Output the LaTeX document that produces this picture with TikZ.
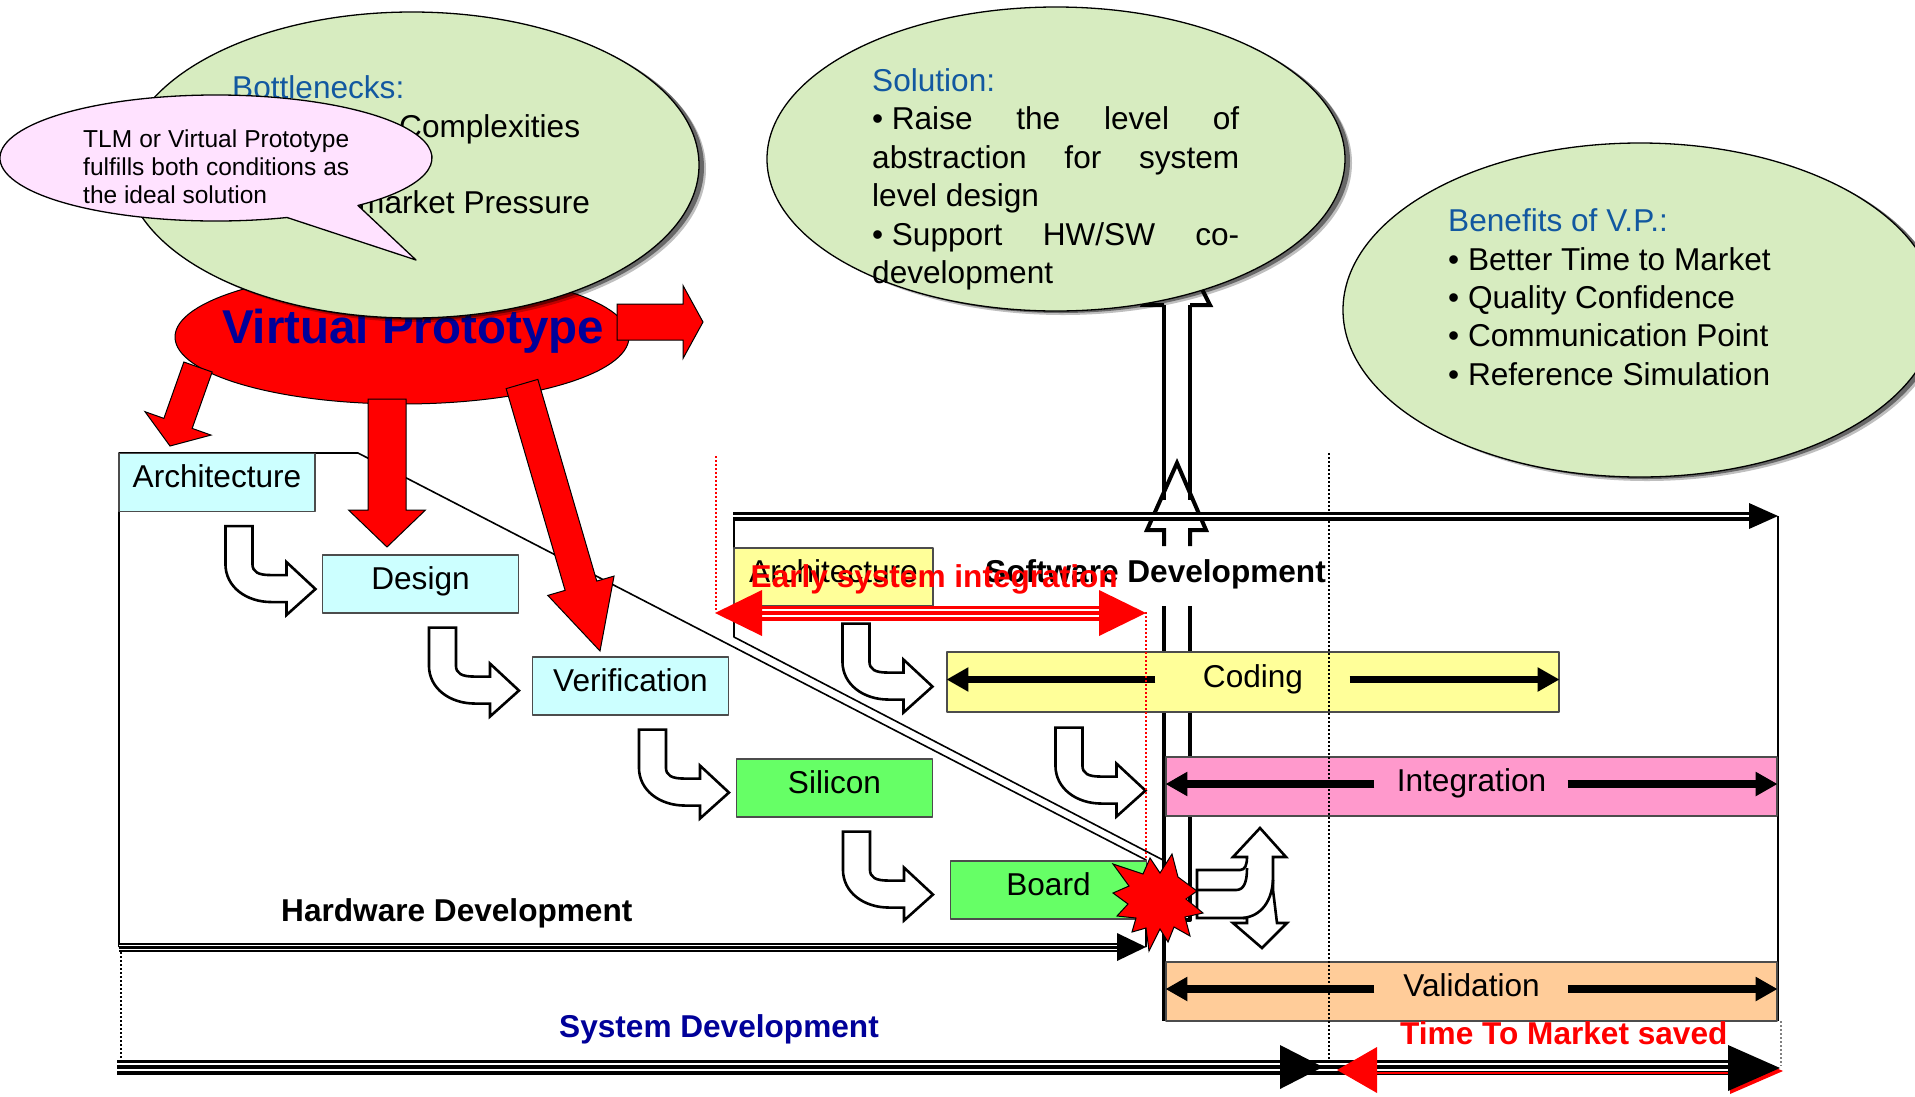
\documentclass[tikz,border=0pt]{standalone}
\usepackage{fontspec}
\setmainfont{Liberation Sans}
\usetikzlibrary{calc,arrows.meta}

\definecolor{navy}{RGB}{0,0,153}
\definecolor{hdblue}{RGB}{18,88,160}
\definecolor{bubble}{RGB}{215,236,192}
\definecolor{callpink}{RGB}{255,226,255}
\definecolor{hwcyan}{RGB}{204,255,255}
\definecolor{hwgreen}{RGB}{102,255,102}
\definecolor{swyellow}{RGB}{255,255,153}
\definecolor{swpink}{RGB}{255,153,204}
\definecolor{swpeach}{RGB}{255,204,153}

\newcommand{\fsmain}{\fontsize{31.6pt}{37pt}\selectfont}
\newcommand{\fscall}{\fontsize{24.5pt}{28pt}\selectfont}
\newcommand{\fsvp}{\fontsize{47.5pt}{52pt}\selectfont\bfseries}

% block arrow: start, tip, half shaft width, half head width, head length
\newcommand{\blockarrow}[5]{%
  \coordinate (bahead) at ($(#2)!#5!(#1)$);
  \filldraw[redblock] ($(#1)!#3!90:(#2)$) -- ($(bahead)!#3!-90:(#1)$)
    -- ($(bahead)!#4!-90:(#1)$) -- (#2) -- ($(bahead)!#4!90:(#1)$)
    -- ($(bahead)!#3!90:(#1)$) -- ($(#1)!#3!-90:(#2)$) -- cycle;
}

\begin{document}
\begin{tikzpicture}[x=1pt, y=-1pt, line join=round,
  hwbox/.style={draw=black!70, line width=1.1pt, inner sep=0pt,
    minimum width=196pt, minimum height=58pt,
    text height=18pt, text depth=8pt, font=\fsmain},
  lbl/.style={anchor=base west, inner sep=0pt, font=\fsmain},
  hollow/.style={fill=white, draw=black, line width=2.6pt, line join=miter},
  redblock/.style={fill=red, draw=black, line width=1pt, line join=miter},
  barrow/.style={line width=7.5pt, -{Triangle[length=22pt,width=23pt]}},
  shaftline/.style={line width=4pt},
  bracket/.style={line width=1.6pt},
  reddots/.style={red, line width=2pt, dash pattern=on 2pt off 2pt},
  blackdots/.style={black, line width=2.2pt, dash pattern=on 2pt off 2pt},
  bubbleshape/.style={fill=bubble, draw=black, line width=1.3pt},
  turnarrow/.pic={
    \filldraw[hollow] (107,14) -- (107,52) .. controls (107,75) and (128,90) .. (153,90)
      -- (168,90) -- (168,103) -- (197,77) -- (168,50) -- (168,63) -- (152,63)
      .. controls (140,63) and (134,60) .. (134,52) -- (134,14) -- cycle;
  }
]
\useasboundingbox (0,0) rectangle (1915,1096);
\clip (0,0) rectangle (1915,1096);
\fill[white] (0,0) rectangle (1915,1096);

% ---------- bracket corners ----------
\coordinate (hwTL) at (119,453);
\coordinate (hwKnee) at (358,453);
\coordinate (hwEnd) at (1146,860);
\coordinate (hwFoot) at (1146,947);
\coordinate (hwStart) at (119,947);
\coordinate (swTL) at (734,516);
\coordinate (swKnee) at (734,637);
\coordinate (swEnd) at (1163,860);
\coordinate (swTR) at (1778,516);
\coordinate (swBR) at (1778,1021);

% ---------- hollow vertical shaft up to the solution ----------
\draw[shaftline] (1164,305) -- (1164,500) (1190,305) -- (1190,500);
\draw[shaftline] (1164,606) -- (1164,1021) (1190,606) -- (1190,920) -- (1184,920);
\draw[shaftline, line join=miter] (1164,546) -- (1164,530) -- (1147,530) -- (1177,463)
  -- (1206,530) -- (1190,530) -- (1190,546);
\draw[shaftline, line join=miter] (1164,305) -- (1143,305) -- (1176,238) -- (1210,305) -- (1190,305);

% ---------- brackets ----------
\draw[bracket] (hwStart) -- (hwTL) -- (hwKnee) -- (hwEnd) -- (hwFoot);
\draw[bracket] (swTL) -- (swKnee) -- (swEnd);
\draw[bracket] (swTR) -- (swBR);

% ---------- software timeline ----------
\draw[line width=9.5pt] (733,516.5) -- (1751,516.5);
\draw[white, line width=1.2pt] (733,516) -- (1751,516);
\fill (1749,503) -- (1778,516) -- (1749,529) -- cycle;

\node[lbl, font=\fsmain\bfseries] (swdev) at (985,582) {Software Development};

% ---------- process boxes ----------
\node[hwbox, fill=hwcyan] (arch) at (217,482.5) {Architecture};
\node[hwbox, fill=hwcyan] (design) at (420.5,584) {Design};
\node[hwbox, fill=hwcyan] (verif) at (630.5,686) {Verification};
\node[hwbox, fill=hwgreen] (silicon) at (834.5,788) {Silicon};
\node[hwbox, fill=hwgreen] (board) at (1048.5,890) {Board};
\node[hwbox, fill=swyellow, minimum width=199pt] (swarch) at (833.5,577) {Architecture};
\node[hwbox, fill=swyellow, minimum width=612pt, minimum height=60pt] (coding) at (1253,682) {Coding};
\node[hwbox, fill=swpink, minimum width=611pt, minimum height=59pt] (integ) at (1471.5,786.5) {Integration};
\node[hwbox, fill=swpeach, minimum width=611pt, minimum height=59pt] (valid) at (1471.5,991.5) {Validation};

% span arrows inside the software phases
\foreach \bx in {coding,integ,valid}{
  \draw[barrow] ([shift={(209,-2.5)}]\bx.west) -- ([shift={(0,-2.5)}]\bx.west);
  \draw[barrow] ([shift={(-210,-2.5)}]\bx.east) -- ([shift={(0,-2.5)}]\bx.east);
}

% ---------- hand-over arrows ----------
\pic at (arch.south west) {turnarrow};
\pic at (design.south west) {turnarrow};
\pic at (verif.south west) {turnarrow};
\pic at (silicon.south west) {turnarrow};
\pic at ([shift={(2,3)}]swarch.south west) {turnarrow};
\pic at ([shift={(2,1)}]coding.south west) {turnarrow};

% ---------- early system integration ----------
\draw[reddots] (716,456) -- (716,612);
\draw[reddots] (1146,612) -- (1146,860);
\draw[red, line width=15pt] (760,613) -- (1101,613);
\draw[white, line width=1.6pt] (760,610) -- (1101,610) (760,616) -- (1101,616);
\fill[red] (762,590) -- (715,613) -- (762,636) -- cycle;
\fill[red] (1099,590) -- (1146,613) -- (1099,636) -- cycle;
\node[lbl, font=\fsmain\bfseries, text=red] (esi) at (750.5,587) {Early system integration};

% ---------- hardware timeline ----------
\draw[line width=9pt] (hwStart) -- (1118,947);
\draw[white, line width=1pt] (119,945) -- (1118,945) (119,949) -- (1118,949);
\fill (1117,933) -- (hwFoot) -- (1117,961) -- cycle;
\node[lbl, font=\fsmain\bfseries] (hwdev) at (281,921) {Hardware Development};

% ---------- system timeline ----------
\draw[line width=15pt] (117,1067) -- (1730,1067);
\draw[white, line width=1.2pt] (117,1064) -- (1730,1064) (117,1070) -- (1730,1070);
\fill (1280,1045) -- (1323,1067) -- (1280,1089) -- cycle;
\draw[red, line width=2pt] (1377,1073) -- (1736,1073);
\fill[red] (1730,1048) -- (1783,1071) -- (1730,1094) -- cycle;
\fill (1728,1045) -- (1780,1068) -- (1728,1091) -- cycle;
\fill[red] (1377,1047) -- (1337,1070) -- (1377,1093) -- cycle;
\node[lbl, font=\fsmain\bfseries, text=navy] (sysdev) at (559,1037) {System Development};
\node[lbl, font=\fsmain\bfseries, text=red] (ttm) at (1400,1044) {Time To Market saved};

% ---------- dotted markers ----------
\draw[blackdots] (1329,453) -- (1329,1066);
\draw[blackdots, line width=1.5pt] (121,952) -- (121,1060);
\draw[gray, line width=1.5pt, dash pattern=on 2pt off 2pt] (1781,1021) -- (1781,1066);

% ---------- split arrow after integration point ----------
\filldraw[hollow] (1197,870) -- (1240,870) .. controls (1245,870) and (1247,865) .. (1247,857)
  -- (1233,857) -- (1260,828) -- (1286,857) -- (1273,857) -- (1273,890) -- (1277,923)
  -- (1287,923) -- (1262,948) -- (1233,923) -- (1247,923) -- (1247,918) -- (1197,918) -- cycle;
\draw[line width=2.6pt] (1197,890) -- (1236,890) .. controls (1244,890) and (1247,882) .. (1247,868);
\draw[line width=2.6pt] (1243,918) .. controls (1262,916) and (1272,900) .. (1273,880);

% ---------- collision star ----------
\filldraw[fill=red, draw=black, line width=1pt, line join=miter]
  (1172,854) -- (1178,877) -- (1197,891) -- (1186,899) -- (1203,913) -- (1185,917)
  -- (1190,936) -- (1174,927) -- (1168,942) -- (1160,929) -- (1149,951) -- (1146,928)
  -- (1132,932) -- (1136,918) -- (1117,916) -- (1128,904) -- (1113,893) -- (1129,886)
  -- (1113,864) -- (1143,874) -- (1150,858) -- (1160,873) -- cycle;

% ---------- virtual prototype ----------
\filldraw[fill=red, draw=black, line width=1pt] (402,337) ellipse [x radius=227, y radius=67];
\node[anchor=base, inner sep=0pt, font=\fsvp, text=navy] (vp) at (413,343) {Virtual Prototype};
\coordinate (a1s) at (198,367); \coordinate (a1t) at (170,446);
\coordinate (a2s) at (387,399); \coordinate (a2t) at (387,547);
\coordinate (a3s) at (522,384); \coordinate (a3t) at (600,651);
\coordinate (a4s) at (617,322); \coordinate (a4t) at (703,322);
\blockarrow{a1s}{a1t}{15pt}{35pt}{24pt}
\blockarrow{a2s}{a2t}{19pt}{38.5pt}{37pt}
\blockarrow{a3s}{a3t}{16.5pt}{34.5pt}{68pt}
\blockarrow{a4s}{a4t}{18pt}{36.5pt}{20pt}

% ---------- bottlenecks bubble ----------
\fill[black, opacity=0.25] (419,169) ellipse [x radius=287, y radius=153];
\fill[black, opacity=0.45] (417,167) ellipse [x radius=287, y radius=153];
\filldraw[bubbleshape] (412,165) ellipse [x radius=287, y radius=153];
\node[lbl, text=hdblue] (bn) at (232,98) {Bottlenecks:};
\node[lbl] (bn1) at (399,137) {Complexities};
\node[lbl] (bn2) at (358,213) {market Pressure};

% ---------- speech callout ----------
\filldraw[fill=callpink, draw=black, line width=1.3pt]
  ([shift={(216,158)}]70.8:216 and 63)
  arc[start angle=70.8, end angle=408.9, x radius=216, y radius=63]
  -- (416,260) -- cycle;
\node[anchor=base west, inner sep=0pt, font=\fscall] (c1) at (83,147) {\makebox[266pt][s]{TLM or Virtual Prototype}};
\node[anchor=base west, inner sep=0pt, font=\fscall] (c2) at (83,175) {\makebox[266pt][s]{fulfills both conditions as}};
\node[anchor=base west, inner sep=0pt, font=\fscall] (c3) at (83,203) {the ideal solution};

% ---------- solution bubble ----------
\fill[black, opacity=0.25] (1063,163) ellipse [x radius=289, y radius=152];
\fill[black, opacity=0.45] (1061,161) ellipse [x radius=289, y radius=152];
\filldraw[bubbleshape] (1056,159) ellipse [x radius=289, y radius=152];
\node[lbl, text=hdblue] (s0) at (872,91) {Solution:};
\node[lbl] (s1) at (872,129.5) {\makebox[367pt][s]{•\kern8.6pt Raise the level of}};
\node[lbl] (s2) at (872,168) {\makebox[367pt][s]{abstraction for system}};
\node[lbl] (s3) at (872,206.5) {level design};
\node[lbl] (s4) at (872,245) {\makebox[367pt][s]{•\kern8.6pt Support HW/SW co-}};
\node[lbl] (s5) at (872,283.5) {development};

% ---------- benefits bubble ----------
\fill[black, opacity=0.25] (1647,314) ellipse [x radius=297, y radius=167];
\fill[black, opacity=0.45] (1645,312) ellipse [x radius=297, y radius=167];
\filldraw[bubbleshape] (1640,310) ellipse [x radius=297, y radius=167];
\node[lbl, text=hdblue] (b0) at (1448,231.7) {Benefits of V.P.:};
\node[lbl] (b1) at (1448,270) {• Better Time to Market};
\node[lbl] (b2) at (1448,308.3) {• Quality Confidence};
\node[lbl] (b3) at (1448,346.7) {• Communication Point};
\node[lbl] (b4) at (1448,385) {• Reference Simulation};
\end{tikzpicture}
\end{document}
